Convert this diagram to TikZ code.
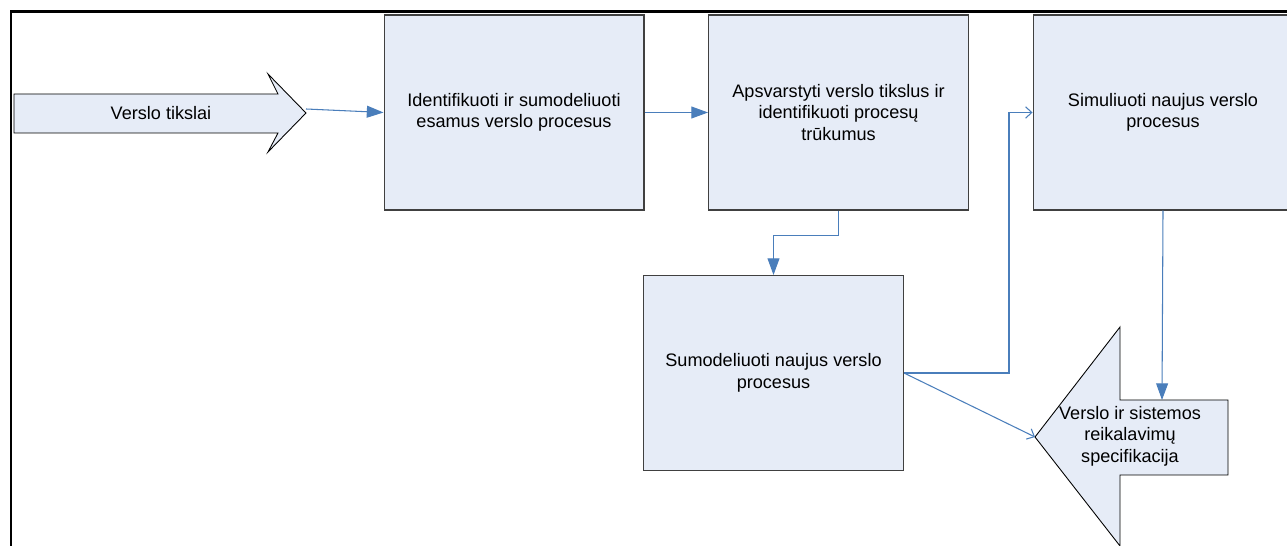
\documentclass[tikz,border=0pt]{standalone}
\usepackage{fontspec}
\setmainfont{Liberation Sans}
\usetikzlibrary{arrows.meta}
\definecolor{boxfill}{RGB}{230,236,247}
\definecolor{boxline}{RGB}{64,64,64}
\definecolor{linkblue}{RGB}{74,126,187}
\begin{document}
\begin{tikzpicture}[x=0.02cm,y=-0.02cm,
  txt/.style={align=center, inner sep=0pt, font=\fontsize{10.3}{12.3}\selectfont},
  stepbox/.style={txt, draw=boxline, line width=0.6pt, fill=boxfill,
    minimum width=5.2cm, minimum height=3.9cm},
  bigarrow/.style={draw=black, line width=0.5pt, fill=boxfill},
  link/.style={draw=linkblue, line width=0.6pt},
  solidtip/.style={-{Triangle[length=9.5pt,width=6.8pt]}},
  opentip/.style={-{Straight Barb[length=3.5pt,width=6.5pt]}}]
\clip (0,0) rectangle (1287,546);
\fill[white] (0,0) rectangle (1287,546);

% frame
\draw[line width=1.3pt] (11,560) -- (11,11.5) -- (1300,11.5);

% input arrow
\draw[bigarrow] (14,94) -- (278,94) -- (268,74) -- (306,113) -- (268,152)
  -- (278,133) -- (14,133) -- cycle;
\node[txt] (goals) at (161,113) {Verslo tikslai};
\coordinate (goalsout) at (306,109);

% output arrow
\draw[bigarrow] (1035,437) -- (1120,327) -- (1120,400) -- (1228,400)
  -- (1228,475) -- (1120,475) -- (1120,546) -- cycle;
\node[txt] (spec) at (1130,436) {Verslo ir sistemos\\reikalavimų\\specifikacija};
\coordinate (spectip) at (1035,437);
\coordinate (spectop) at (1162,400);

% process steps
\node[stepbox] (b1) at (514,112.5) {Identifikuoti ir sumodeliuoti\\esamus verslo procesus};
\node[stepbox] (b2) at (838.5,112.5) {Apsvarstyti verslo tikslus ir\\identifikuoti procesų\\trūkumus};
\node[stepbox] (b3) at (1163,112.5) {Simuliuoti naujus verslo\\procesus};
\node[stepbox] (b4) at (773.5,373) {Sumodeliuoti naujus verslo\\procesus};

% connectors
\draw[link, solidtip] (goalsout) -- (b1.west);
\draw[link, solidtip] (b1.east) -- (b2.west);
\draw[link, solidtip] (b2.south) -- ++(0,25) -| (b4.north);
\draw[link, opentip] (b4.east) -- ++(105,0) |- (b3.west);
\draw[link, opentip] (b4.east) -- (spectip);
\draw[link, solidtip] (b3.south) -- (spectop);
\end{tikzpicture}
\end{document}
